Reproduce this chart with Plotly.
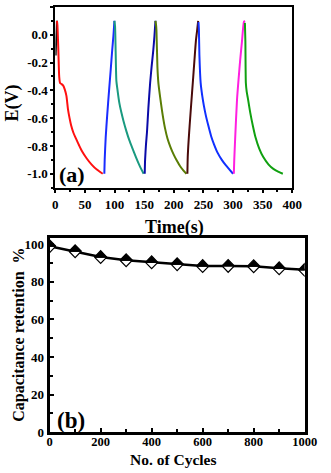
import plotly.graph_objects as go

# ---- (a) galvanostatic charge / discharge curves ----
seg_colors = ["#111111", "#ff1010", "#1a2cff", "#1a9a80", "#0a0aa8",
              "#5a7d05", "#4a0a0a", "#1030ff", "#ff20e0", "#10a010"]

t0 = [0.5, 1.5, 2.7]
e0 = [-0.15, -0.02, 0.1]
t1 = [2.7, 3.5, 5.0, 6.5, 8.0, 10.5, 13.3, 16.0, 18.7, 21.3, 24.0, 26.7,
      30.5, 34.7, 40.0, 45.3, 53.0, 61.3, 70.0, 80.0]
e1 = [0.1, 0.07, -0.1, -0.3, -0.347, -0.355, -0.366, -0.395, -0.44, -0.535,
      -0.6, -0.653, -0.705, -0.746, -0.795, -0.84, -0.89, -0.934, -0.97, -1.0]
t2 = [82.7, 83.3, 85.0, 87.5, 90.7, 93.5, 96.0, 98.0, 99.7]
e2 = [-1.0, -0.9, -0.74, -0.58, -0.40, -0.25, -0.11, -0.01, 0.1]
t3 = [99.7, 100.8, 101.8, 103.0, 105.0, 108.0, 111.5, 115.0, 120.0, 125.0,
      130.0, 136.0, 142.0, 149.0]
e3 = [0.1, 0.06, -0.12, -0.33, -0.40, -0.49, -0.56, -0.62, -0.695, -0.76,
      -0.815, -0.88, -0.94, -1.0]
t4 = [150.9, 151.5, 153.0, 154.7, 157.0, 160.0, 162.5, 165.3, 167.3, 169.0]
e4 = [-1.0, -0.9, -0.79, -0.70, -0.53, -0.347, -0.23, -0.113, -0.01, 0.1]
t5 = [169.0, 170.0, 170.7, 172.3, 174.0, 176.0, 178.5, 181.3, 185.0, 189.3,
      194.5, 200.0, 205.0, 210.7, 216.0, 221.3]
e5 = [0.1, 0.07, 0.03, -0.23, -0.35, -0.42, -0.50, -0.58, -0.67, -0.746,
      -0.81, -0.864, -0.905, -0.946, -0.975, -1.0]
t6 = [222.9, 223.5, 225.0, 226.7, 229.3, 232.0, 234.7, 237.3, 239.3, 241.1]
e6 = [-1.0, -0.88, -0.76, -0.653, -0.50, -0.347, -0.19, -0.042, 0.03, 0.1]
t7 = [241.6, 242.3, 243.2, 245.3, 248.0, 250.7, 254.0, 258.0, 263.0, 268.0,
      274.0, 281.0, 288.0, 294.0, 300.0]
e7 = [0.09, 0.04, -0.15, -0.347, -0.44, -0.51, -0.58, -0.65, -0.73, -0.79,
      -0.85, -0.9, -0.94, -0.97, -1.0]
t8 = [301.3, 302.0, 303.5, 306.7, 309.5, 312.0, 315.0, 318.4, 320.0]
e8 = [-1.0, -0.9, -0.75, -0.465, -0.31, -0.183, -0.05, 0.093, 0.1]
t9 = [320.0, 320.8, 321.6, 323.0, 325.3, 329.0, 333.3, 338.0, 344.0, 351.0,
      360.0, 368.0, 376.0, 384.0]
e9 = [0.085, -0.05, -0.347, -0.41, -0.465, -0.56, -0.653, -0.74, -0.817,
      -0.88, -0.934, -0.965, -0.985, -1.0]

time_segments = [t0, t1, t2, t3, t4, t5, t6, t7, t8, t9]
volt_segments = [e0, e1, e2, e3, e4, e5, e6, e7, e8, e9]

time_ticks = [0, 50, 100, 150, 200, 250, 300, 350, 400]
volt_ticks = [-1.0, -0.8, -0.6, -0.4, -0.2, 0.0, 0.2]

# ---- (b) cycling stability ----
cycles = [0, 100, 200, 300, 400, 500, 600, 700, 800, 900, 1000]
retention = [99.0, 96.3, 93.2, 91.5, 90.4, 89.4, 88.4, 88.5, 88.3, 87.2, 86.4]
cycle_ticks = [0, 200, 400, 600, 800, 1000]
ret_ticks = [0, 20, 40, 60, 80, 100]

W, H = 331, 473
FONT = "Liberation Serif"

fig = go.Figure()

for tt, ee, col in zip(time_segments, volt_segments, seg_colors):
    fig.add_trace(go.Scatter(x=tt, y=ee, mode="lines", xaxis="x", yaxis="y",
                             line=dict(color=col, width=2, shape="spline",
                                       smoothing=0.6),
                             showlegend=False, hoverinfo="skip"))

# panel (b): connecting line, then half-filled diamond symbols
fig.add_trace(go.Scatter(x=cycles, y=retention, mode="lines", xaxis="x2",
                         yaxis="y2", line=dict(color="black", width=2.5),
                         showlegend=False, hoverinfo="skip"))

x2_range = [0, 1000]
y2_range = [0, 103.4]
dom_x2 = [49 / W, 317 / W]
dom_y2 = [1 - 439.5 / H, 1 - 241.5 / H]
half_px = 6.5
hw = half_px * (x2_range[1] - x2_range[0]) / ((dom_x2[1] - dom_x2[0]) * W)
hh = half_px * (y2_range[1] - y2_range[0]) / ((dom_y2[1] - dom_y2[0]) * H)

top_x, top_y, bot_x, bot_y = [], [], [], []
for cx, cy in zip(cycles, retention):
    top_x += [cx - hw, cx, cx + hw, cx - hw, None]
    top_y += [cy, cy + hh, cy, cy, None]
    bot_x += [cx - hw, cx, cx + hw, cx - hw, None]
    bot_y += [cy, cy - hh, cy, cy, None]

fig.add_trace(go.Scatter(x=bot_x, y=bot_y, mode="lines", fill="toself",
                         fillcolor="white", xaxis="x2", yaxis="y2",
                         line=dict(color="black", width=1.2),
                         showlegend=False, hoverinfo="skip"))
fig.add_trace(go.Scatter(x=top_x, y=top_y, mode="lines", fill="toself",
                         fillcolor="black", xaxis="x2", yaxis="y2",
                         line=dict(color="black", width=1.2),
                         showlegend=False, hoverinfo="skip"))


def tfont(size):
    return dict(family=FONT, size=size, color="black", weight="bold")


def fmt1(v):
    return f"{abs(v):.1f}" if abs(v) < 1e-9 else f"{v:.1f}"


axis_common = dict(showline=True, mirror=True, linecolor="black",
                   showgrid=False, zeroline=False,
                   tickcolor="black", tickwidth=1.5)

fig.update_layout(
    width=W, height=H,
    margin=dict(l=0, r=0, t=0, b=0),
    paper_bgcolor="white", plot_bgcolor="white",
    font=dict(family=FONT, color="black"),
    xaxis=dict(domain=[55 / W, 304 / W], anchor="y", range=[0, 400],
               tickvals=time_ticks, ticktext=[str(v) for v in time_ticks],
               linewidth=2, ticks="outside", ticklen=3, tickfont=tfont(13),
               minor=dict(dtick=25, ticks="outside", ticklen=2,
                          tickcolor="black"),
               **axis_common),
    yaxis=dict(domain=[1 - 191 / H, 1 - 6 / H], anchor="x",
               range=[-1.105, 0.2],
               tickvals=volt_ticks, ticktext=[fmt1(v) for v in volt_ticks],
               linewidth=2, ticks="outside", ticklen=3, tickfont=tfont(13),
               minor=dict(dtick=0.1, tick0=0, ticks="outside", ticklen=2,
                          tickcolor="black"),
               **axis_common),
    xaxis2=dict(domain=dom_x2, anchor="y2", range=x2_range,
                tickvals=cycle_ticks, ticktext=[str(v) for v in cycle_ticks],
                linewidth=3, ticks="inside", ticklen=4, tickfont=tfont(12.5),
                ticklabelstandoff=-4,
                minor=dict(dtick=100, ticks="inside", ticklen=3,
                           tickcolor="black"),
                **axis_common),
    yaxis2=dict(domain=dom_y2, anchor="x2", range=y2_range,
                tickvals=ret_ticks, ticktext=[str(v) for v in ret_ticks],
                linewidth=3, ticks="inside", ticklen=4, tickfont=tfont(13),
                minor=dict(dtick=10, ticks="inside", ticklen=3,
                           tickcolor="black"),
                **axis_common),
)

labels = [
    ("E(V)", 10, 104, 18, -90),
    ("Time(s)", 180, 231, 18, 0),
    ("Capacitance retention\u00a0 %", 16, 340, 16, -90),
    ("No. of Cycles", 179, 467, 15.5, 0),
    ("(a)", 72, 177, 22, 0),
    ("(b)", 71, 428, 23, 0),
]
for text, px, py, size, ang in labels:
    fig.add_annotation(text=text, x=px / W, y=1 - py / H, xref="paper",
                       yref="paper", xanchor="center", yanchor="middle",
                       showarrow=False, textangle=ang, font=tfont(size))

fig.write_html("out.html")
